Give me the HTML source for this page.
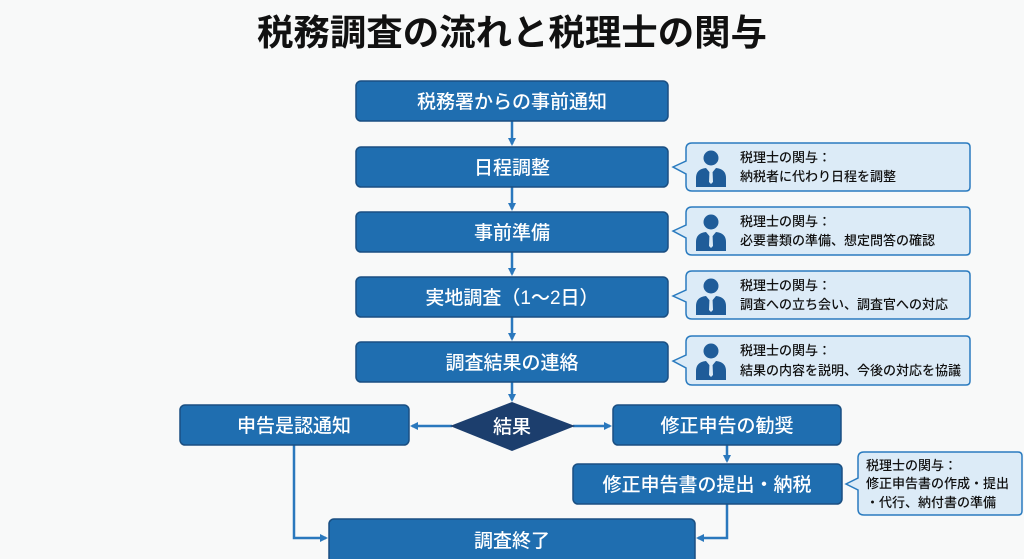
<!DOCTYPE html>
<html><head><meta charset="utf-8"><style>
html,body{margin:0;padding:0;background:#f8f9f9;}
svg{display:block;font-family:"Liberation Sans","Noto Sans CJK JP",sans-serif;}
</style></head><body>
<svg width="1024" height="559" viewBox="0 0 1024 559" xmlns="http://www.w3.org/2000/svg">
<defs>
<marker id="ah" markerWidth="8" markerHeight="8" refX="6" refY="4" orient="auto" markerUnits="userSpaceOnUse"><path d="M0,0 L8,4 L0,8 Z" fill="#2a78bd"/></marker>
<g id="icon"><circle cx="0" cy="0" r="7.5" fill="#1f5c99"/><path d="M-15,29 L-15,20 Q-15,11 -5,10 L0,16 L5,10 Q15,11 15,20 L15,29 Z" fill="#1f5c99"/><path d="M-1.5,12 L1.5,12 L2,24 L0,26 L-2,24 Z" fill="#dcebf7"/></g>
</defs>
<rect width="1024" height="559" fill="#f8f9f9"/>
<text x="512" y="45" text-anchor="middle" font-size="36" font-weight="bold" fill="#111" textLength="510" lengthAdjust="spacingAndGlyphs">税務調査の流れと税理士の関与</text>

<g stroke="#2a78bd" stroke-width="2.5" fill="none">
<line x1="512" y1="121" x2="512" y2="144" marker-end="url(#ah)"/>
<line x1="512" y1="187" x2="512" y2="209" marker-end="url(#ah)"/>
<line x1="512" y1="252" x2="512" y2="274" marker-end="url(#ah)"/>
<line x1="512" y1="317" x2="512" y2="339" marker-end="url(#ah)"/>
<line x1="512" y1="382" x2="512" y2="400" marker-end="url(#ah)"/>
<line x1="452" y1="426" x2="412" y2="426" marker-end="url(#ah)"/>
<line x1="573" y1="426" x2="610" y2="426" marker-end="url(#ah)"/>
<line x1="727" y1="445" x2="727" y2="461" marker-end="url(#ah)"/>
<polyline points="294,445 294,538 326,538" marker-end="url(#ah)"/>
<polyline points="727,504 727,538 698,538" marker-end="url(#ah)"/>
</g>

<g fill="#1f6eb0" stroke="#1a4f82" stroke-width="1.5">
<rect x="356" y="81" width="312" height="40" rx="5"/>
<rect x="356" y="147" width="312" height="40" rx="5"/>
<rect x="356" y="212" width="312" height="40" rx="5"/>
<rect x="356" y="277" width="312" height="40" rx="5"/>
<rect x="356" y="342" width="312" height="40" rx="5"/>
<rect x="180" y="405" width="229" height="40" rx="5"/>
<rect x="613" y="405" width="228" height="40" rx="5"/>
<rect x="573" y="464" width="269" height="40" rx="5"/>
<rect x="329" y="519" width="366" height="45" rx="5"/>
</g>
<polygon points="450,426 512,402 575,426 512,451" fill="#1c3e6d"/>

<g fill="#fff" font-size="19" font-weight="500" text-anchor="middle">
<text x="512" y="108">税務署からの事前通知</text>
<text x="512" y="174">日程調整</text>
<text x="512" y="239">事前準備</text>
<text x="512" y="304">実地調査（1～2日）</text>
<text x="512" y="369">調査結果の連絡</text>
<text x="294" y="432">申告是認通知</text>
<text x="512" y="433">結果</text>
<text x="727" y="432">修正申告の勧奨</text>
<text x="707" y="491">修正申告書の提出・納税</text>
<text x="512" y="547">調査終了</text>
</g>

<g fill="#dcebf7" stroke="#2a7bbf" stroke-width="1.5">
<path d="M692,143 H966 Q970,143 970,147 V187 Q970,191 966,191 H692 Q686,191 686,185 V174 L673,167 L686,161 V149 Q686,143 692,143 Z"/>
<path d="M692,207 H966 Q970,207 970,211 V251 Q970,255 966,255 H692 Q686,255 686,249 V238 L673,231 L686,225 V213 Q686,207 692,207 Z"/>
<path d="M692,271 H966 Q970,271 970,275 V315 Q970,319 966,319 H692 Q686,319 686,313 V302 L673,296 L686,290 V277 Q686,271 692,271 Z"/>
<path d="M692,336 H966 Q970,336 970,340 V381 Q970,385 966,385 H692 Q686,385 686,379 V368 L673,361 L686,355 V342 Q686,336 692,336 Z"/>
<path d="M864,452 H1018 Q1022,452 1022,456 V511 Q1022,515 1018,515 H864 Q858,515 858,509 V490 L846,484 L858,478 V458 Q858,452 864,452 Z"/>
</g>
<use href="#icon" x="711" y="158"/>
<use href="#icon" x="711" y="222"/>
<use href="#icon" x="711" y="286"/>
<use href="#icon" x="711" y="351"/>

<g fill="#111" font-size="13" font-weight="500">
<text x="740" y="162">税理士の関与：</text><text x="740" y="181">納税者に代わり日程を調整</text>
<text x="740" y="226">税理士の関与：</text><text x="740" y="245">必要書類の準備、想定問答の確認</text>
<text x="740" y="290">税理士の関与：</text><text x="740" y="309">調査への立ち会い、調査官への対応</text>
<text x="740" y="355">税理士の関与：</text><text x="740" y="375">結果の内容を説明、今後の対応を協議</text>
<text x="866" y="470">税理士の関与：</text><text x="866" y="488">修正申告書の作成・提出</text><text x="866" y="507">・代行、納付書の準備</text>
</g>
</svg>
</body></html>
